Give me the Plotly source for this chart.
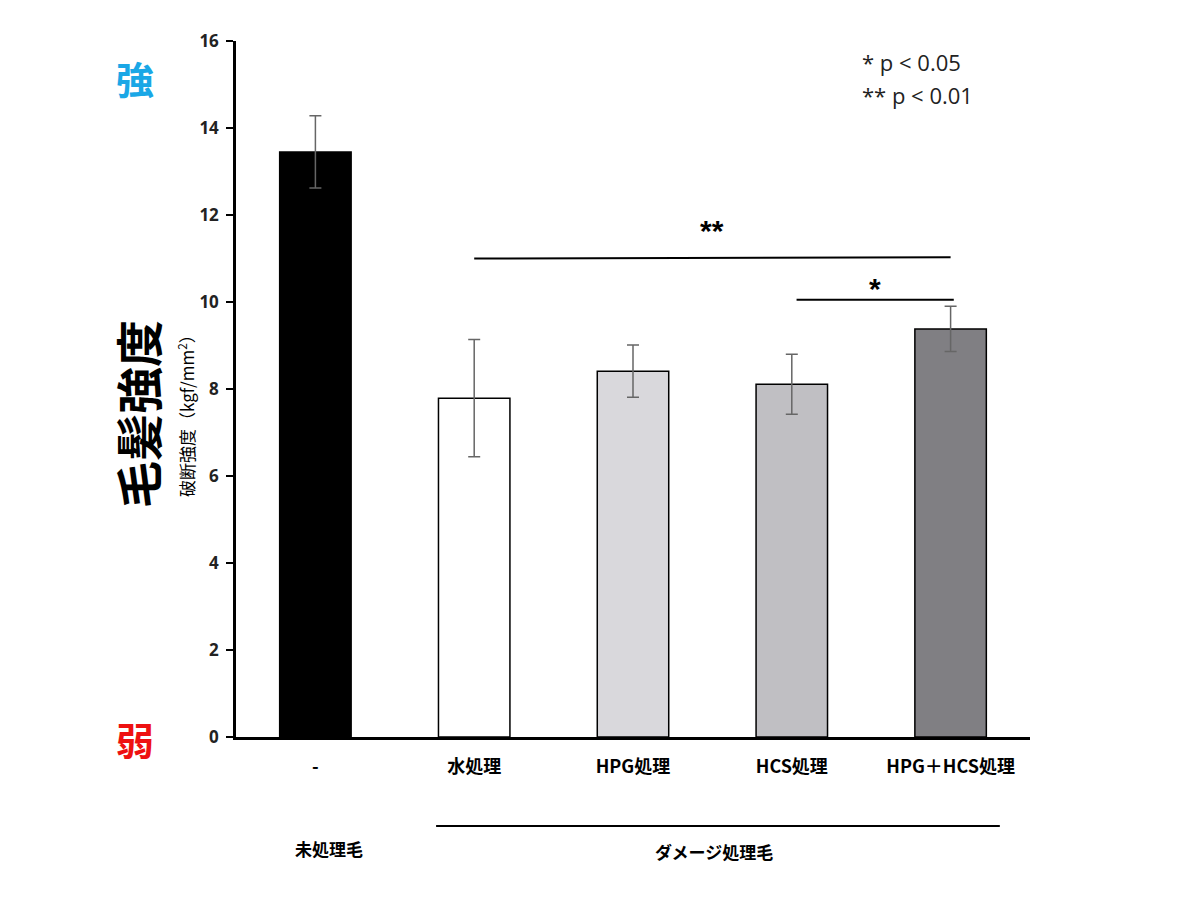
import plotly.graph_objects as go

categories = ["-", "水処理", "HPG処理", "HCS処理", "HPG＋HCS処理"]
values = [13.45, 7.79, 8.41, 8.11, 9.38]
errors = [0.83, 1.35, 0.60, 0.69, 0.52]
colors = ["#000000", "#ffffff", "#d9d8dc", "#c0bfc3", "#807f83"]
y_ticks = [0, 2, 4, 6, 8, 10, 12, 14, 16]

# plot area in pixels
L, R, T, B = 236, 1030, 41, 737
W, H = R - L, B - T

def px(x):
    return (x - L) / W

def py(y):
    return (B - y) / H

cjk = "Noto Sans CJK JP"
xs = list(range(len(categories)))

fig = go.Figure()
fig.add_trace(go.Bar(
    x=xs, y=values,
    marker=dict(color=colors, line=dict(color="#000000", width=1.5)),
    error_y=dict(type="data", array=errors, color="#666666", thickness=1.5, width=6),
    width=0.45,
    showlegend=False,
))

shapes = [
    dict(type="line", xref="x", yref="y", x0=1.0, x1=4.0, y0=11.0, y1=11.03,
         line=dict(color="#000000", width=2)),
    dict(type="line", xref="x", yref="y", x0=3.03, x1=4.02, y0=10.05, y1=10.05,
         line=dict(color="#000000", width=2)),
    dict(type="line", xref="x", yref="paper", x0=0.76, x1=4.31, y0=py(826), y1=py(826),
         line=dict(color="#000000", width=2)),
]

def ann(text, x, y, xref, yref, font, angle=0, xanchor="center"):
    return dict(text=text, x=x, y=y, xref=xref, yref=yref, showarrow=False,
                xanchor=xanchor, yanchor="middle", textangle=angle, font=font)

annotations = [
    ann("**", 2.5, py(230), "x", "paper",
        dict(family="Liberation Sans", size=30, color="#000000", weight="bold")),
    ann("*", (876 - 316) / 158.8, py(288), "x", "paper",
        dict(family="Liberation Sans", size=30, color="#000000", weight="bold")),
    ann("* p < 0.05", px(860), py(62), "paper", "paper",
        dict(family="Open Sans", size=22, color="#222222"), xanchor="left"),
    ann("** p < 0.01", px(860), py(95), "paper", "paper",
        dict(family="Open Sans", size=22, color="#222222"), xanchor="left"),
    ann("毛髪強度", px(136), py(414), "paper", "paper",
        dict(family=cjk, size=47, color="#000000", weight="bold"), angle=-90),
    ann("破断強度（kgf/mm<sup>2</sup>）", px(186), py(412), "paper", "paper",
        dict(family=cjk, size=17, color="#000000"), angle=-90),
    ann("強", px(135), py(78), "paper", "paper",
        dict(family=cjk, size=38, color="#1aa7e6", weight="bold")),
    ann("弱", px(135), py(738), "paper", "paper",
        dict(family=cjk, size=38, color="#ee1111", weight="bold")),
    ann("未処理毛", (330 - 316) / 158.8, py(848), "x", "paper",
        dict(family=cjk, size=17, color="#000000", weight="bold")),
    ann("ダメージ処理毛", (715 - 316) / 158.8, py(851), "x", "paper",
        dict(family=cjk, size=17, color="#000000", weight="bold")),
]

fig.update_layout(
    width=1200, height=900,
    margin=dict(l=L, r=1200 - R, t=T, b=900 - B),
    paper_bgcolor="#ffffff", plot_bgcolor="#ffffff",
    shapes=shapes, annotations=annotations,
    xaxis=dict(
        range=[-0.5, 4.5], tickvals=xs, ticktext=categories,
        showline=True, linecolor="#000000", linewidth=2.5,
        ticks="", showgrid=False, zeroline=False,
        tickfont=dict(family=cjk, size=18, color="#000000", weight="bold"),
        ticklabelstandoff=12,
    ),
    yaxis=dict(
        range=[0, 16], tickvals=y_ticks,
        showline=True, linecolor="#000000", linewidth=2.5,
        ticks="outside", ticklen=7, tickwidth=2, tickcolor="#000000",
        showgrid=False, zeroline=False,
        tickfont=dict(family="Open Sans", size=17, color="#222222", weight="bold"),
        ticklabelstandoff=4,
    ),
    bargap=0.55,
)

fig.write_html("out.html")
